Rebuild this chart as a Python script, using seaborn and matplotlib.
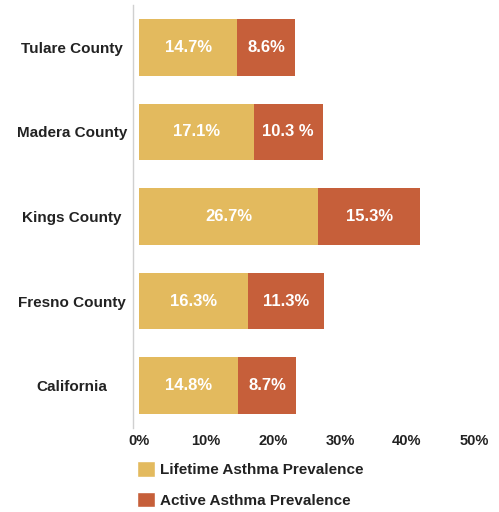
import pandas as pd
import matplotlib.pyplot as plt
import seaborn as sns
from matplotlib.patches import Patch

# data
regions = ['Tulare County', 'Madera County', 'Kings County', 'Fresno County', 'California']
lifetime = [14.7, 17.1, 26.7, 16.3, 14.8]
active = [8.6, 10.3, 15.3, 11.3, 8.7]
lifetime_labels = ['14.7%', '17.1%', '26.7%', '16.3%', '14.8%']
active_labels = ['8.6%', '10.3 %', '15.3%', '11.3%', '8.7%']

yellow = '#E3BA5E'
red = '#C65F3A'
dark = '#222222'

sns.set_style('white')
plt.rcParams['font.family'] = ['Liberation Sans', 'DejaVu Sans']

df = pd.DataFrame({'region': regions, 'lifetime': lifetime, 'active': active})
df['total'] = df['lifetime'] + df['active']

fig = plt.figure(figsize=(4.99, 5.12), dpi=100)
ax = fig.add_axes([133 / 499, 84 / 512, 357 / 499, 423 / 512])

# stacked bars: total in red first, lifetime in yellow on top
sns.barplot(data=df, y='region', x='total', color=red, width=0.67,
            saturation=1, ax=ax, orient='h', linewidth=0)
sns.barplot(data=df, y='region', x='lifetime', color=yellow, width=0.67,
            saturation=1, ax=ax, orient='h', linewidth=0)

for i in range(len(regions)):
    ax.text(lifetime[i] / 2, i, lifetime_labels[i], color='white',
            fontsize=12, fontweight='bold', ha='center', va='center')
    ax.text(lifetime[i] + active[i] / 2, i, active_labels[i], color='white',
            fontsize=12, fontweight='bold', ha='center', va='center')

ax.set_xlim(-0.9, 52.4)
ax.set_ylim(4.5, -0.5)
ax.set_xticks([0, 10, 20, 30, 40, 50])
ax.set_xticklabels(['0%', '10%', '20%', '30%', '40%', '50%'])
ax.set_xlabel('')
ax.set_ylabel('')

for s in ['top', 'right', 'bottom']:
    ax.spines[s].set_visible(False)
ax.spines['left'].set_color('#D0D0D0')
ax.spines['left'].set_linewidth(1)

ax.tick_params(axis='x', length=0, pad=4, labelsize=10.5, labelcolor=dark)
ax.tick_params(axis='y', length=0, pad=44, labelsize=11, labelcolor=dark)
for lab in ax.get_xticklabels():
    lab.set_fontweight('bold')
for lab in ax.get_yticklabels():
    lab.set_fontweight('bold')
    lab.set_horizontalalignment('center')

handles = [Patch(facecolor=yellow, label='Lifetime Asthma Prevalence'),
           Patch(facecolor=red, label='Active Asthma Prevalence')]
leg = fig.legend(handles=handles, loc='upper left',
                 bbox_to_anchor=(131 / 499, 1 - 455 / 512), frameon=False,
                 prop={'size': 11, 'weight': 'bold'}, handlelength=1.2,
                 handleheight=1.2, handletextpad=0.3, labelspacing=0.95,
                 borderaxespad=0)
for t in leg.get_texts():
    t.set_color(dark)

fig.savefig('out.png', dpi=100)
